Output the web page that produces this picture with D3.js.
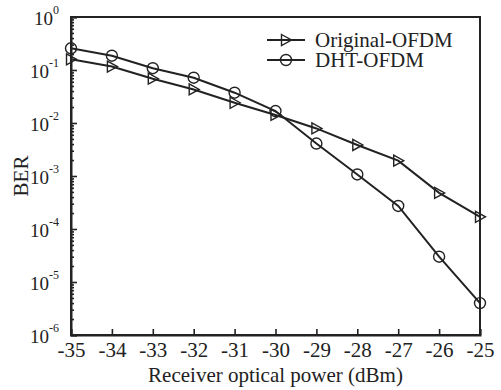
<!DOCTYPE html>
<html>
<head>
<meta charset="utf-8">
<script src="https://cdn.jsdelivr.net/npm/d3@7"></script>
<style>
  body { margin: 0; background: #fff; }
  svg { display: block; font-family: "Liberation Serif", "Times New Roman", serif; }
</style>
</head>
<body>
<svg id="chart" width="501" height="390"></svg>
<script>
// data
const powers = [-35, -34, -33, -32, -31, -30, -29, -28, -27, -26, -25];
const originalBer = [0.159, 0.116, 0.0686, 0.043, 0.0241, 0.0142, 0.0079, 0.00385, 0.00195, 0.00048, 0.00017];
const dhtBer = [0.257, 0.186, 0.108, 0.0716, 0.0373, 0.0168, 0.0041, 0.00107, 0.000272, 0.00003, 0.000004];
const decades = [0, -1, -2, -3, -4, -5, -6];
const seriesNames = ['Original-OFDM', 'DHT-OFDM'];

const ink = '#222';
const margin = { top: 17, right: 21, bottom: 55, left: 71 };
const width = 501 - margin.left - margin.right,
  height = 390 - margin.top - margin.bottom;

const svg = d3.select('#chart');
const g = svg.append('g')
  .attr('transform', 'translate(' + margin.left + ',' + margin.top + ')');

const x = d3.scaleLinear().domain([-35, -25]).range([0, width]);
const y = d3.scaleLog().domain([1e-6, 1]).range([height, 0]);

// minor ticks 2..9 of every decade
const minorValues = [];
decades.slice(1).forEach(e => {
  for (let k = 2; k <= 9; k++) minorValues.push(k * Math.pow(10, e));
});

const yMinor = g.append('g')
  .call(d3.axisLeft(y).tickValues(minorValues).tickSize(-3).tickFormat(''));
yMinor.select('.domain').remove();

const yAxis = g.append('g')
  .call(d3.axisLeft(y).tickValues(decades.map(e => Math.pow(10, e))).tickSize(-6).tickFormat(''));

const xAxis = g.append('g')
  .attr('transform', 'translate(0,' + height + ')')
  .call(d3.axisBottom(x).tickValues(powers).tickSize(-6).tickPadding(7).tickFormat(d3.format('d')));

[yMinor, yAxis, xAxis].forEach(a => {
  a.selectAll('line').attr('stroke', ink).attr('stroke-width', 1.6);
  a.selectAll('.domain').attr('stroke', ink).attr('stroke-width', 2);
});
xAxis.selectAll('text')
  .attr('fill', ink)
  .style('font-size', '21px')
  .style('font-family', '"Liberation Serif", serif')
  .text(d => d < 0 ? '-' + Math.abs(d) : d);

// frame
g.append('rect')
  .attr('width', width).attr('height', height)
  .attr('fill', 'none').attr('stroke', ink).attr('stroke-width', 2);

// y tick labels 10^n
const yLab = g.append('g').selectAll('text')
  .data(decades)
  .enter()
  .append('text')
  .attr('x', -16)
  .attr('y', d => y(Math.pow(10, d)) + 8)
  .attr('text-anchor', 'end')
  .attr('fill', ink)
  .style('font-size', '19px');
yLab.append('tspan').text('10');
yLab.append('tspan')
  .attr('dy', -11)
  .style('font-size', '12px')
  .text(d => d === 0 ? '0' : '-' + Math.abs(d));
// put the exponent after the base, keep right edge near axis
yLab.attr('x', null).attr('transform', null);
yLab.each(function (d) {
  const bb = this.getBBox();
  d3.select(this).attr('x', -12 - bb.width).attr('text-anchor', 'start');
});

// axis titles
g.append('text')
  .attr('x', width / 2)
  .attr('y', height + 47)
  .attr('text-anchor', 'middle')
  .attr('fill', ink)
  .style('font-size', '21px')
  .text('Receiver optical power (dBm)');

g.append('text')
  .attr('transform', 'translate(' + (28 - margin.left) + ',' + (height / 2) + ') rotate(-90)')
  .attr('text-anchor', 'middle')
  .attr('fill', ink)
  .style('font-size', '21px')
  .text('BER');

// series
const line = d3.line()
  .x(d => x(d[0]))
  .y(d => y(d[1]));

const triangle = 'M-4.5,-5.5L5.5,0L-4.5,5.5Z';

const drawMarker = (sel, type) => {
  if (type === 'tri') {
    sel.append('path').attr('d', triangle);
  } else {
    sel.append('circle').attr('r', 5.5);
  }
  sel.selectAll('path,circle')
    .attr('fill', 'none')
    .attr('stroke', ink)
    .attr('stroke-width', 1.4);
};

const series = [
  { name: seriesNames[0], values: originalBer, type: 'tri' },
  { name: seriesNames[1], values: dhtBer, type: 'circle' },
];

series.forEach(s => {
  const pts = powers.map((p, i) => [p, s.values[i]]);
  g.append('path')
    .datum(pts)
    .attr('d', line)
    .attr('fill', 'none')
    .attr('stroke', ink)
    .attr('stroke-width', 2);
  g.append('g').selectAll('g')
    .data(pts)
    .enter()
    .append('g')
    .attr('transform', d => 'translate(' + x(d[0]) + ',' + y(d[1]) + ')')
    .each(function () { drawMarker(d3.select(this), s.type); });
});

// legend
const legend = svg.append('g').selectAll('g')
  .data(series)
  .enter()
  .append('g')
  .attr('transform', (d, i) => 'translate(267,' + (40 + i * 20) + ')');
legend.append('line')
  .attr('x1', 0).attr('x2', 38)
  .attr('stroke', ink).attr('stroke-width', 2);
legend.append('g')
  .attr('transform', 'translate(19,0)')
  .each(function (d) { drawMarker(d3.select(this), d.type); });
legend.append('text')
  .attr('x', 48)
  .attr('y', 7)
  .attr('fill', ink)
  .style('font-size', '21px')
  .text(d => d.name);
</script>
</body>
</html>
